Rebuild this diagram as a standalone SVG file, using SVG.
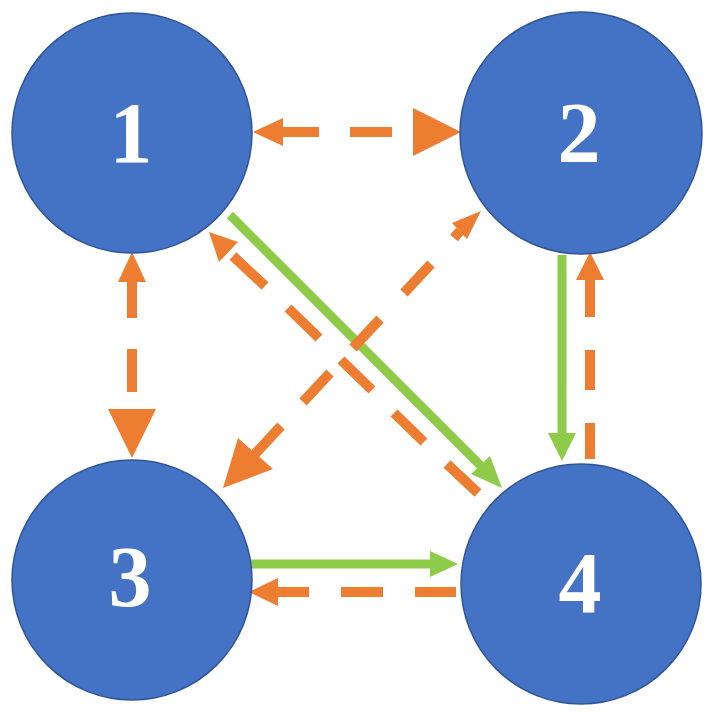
<svg xmlns="http://www.w3.org/2000/svg" width="711" height="712" viewBox="0 0 711 712">
<style>
.node circle{fill:#4472C4;stroke:#2F5597;stroke-width:1.5}
.node text{font-family:"Liberation Serif","Times New Roman",serif;font-weight:bold;font-size:86px;fill:#fff;text-anchor:middle}
.o{stroke:#ED7D31;stroke-width:10;fill:none;stroke-linecap:butt}
.oh{fill:#ED7D31}
.g{stroke:#8DCB48;stroke-width:9;fill:none}
.gh{fill:#8DCB48}
</style>
<rect width="711" height="712" fill="#fff"/>
<g id="connectors">
<!-- 1 <-> 2 -->
<path class="o" d="M283 132 H319 M350 132 H392"/>
<polygon class="oh" points="253,132 283,118 283,146"/>
<polygon class="oh" points="461,132 413,108 413,156"/>
<!-- 1 <-> 3 -->
<path class="o" d="M132 282 V318 M132 349 V392"/>
<polygon class="oh" points="132,252 118,282 146,282"/>
<polygon class="oh" points="132,458 108,409 156,409"/>
<!-- 2 -> 4 green -->
<path class="g" d="M562 255 V434"/>
<polygon class="gh" points="562,461 548,433 576,433"/>
<!-- 4 -> 2 orange -->
<path class="o" d="M590 280 V317 M590 350 V390 M590 423 V459"/>
<polygon class="oh" points="590,252 576,280 604,280"/>
<!-- 3 -> 4 green -->
<path class="g" d="M250 564 H431"/>
<polygon class="gh" points="458,564 430,551 430,577"/>
<!-- 4 -> 3 orange -->
<path class="o" d="M278 592 H309 M341 592 H383 M415 592 H456"/>
<polygon class="oh" points="249,592 278,578 278,606"/>
<!-- 1 -> 4 green -->
<path class="g" d="M230 215 L482 467"/>
<polygon class="gh" points="502,488 471,474 490,456"/>
<!-- 4 -> 1 orange -->
<path class="o" d="M233 256 L265 286 M288 308 L319 338 M341 360 L372 390 M394 413 L424 442 M447 464 L478 493"/>
<polygon class="oh" points="209,232 219,262 238,242"/>
<!-- 3 -> 2 orange -->
<path class="o" d="M460 231 L454 238 M431 264 L404 293 M380 319 L353 348 M330 373 L303 402 M281 426 L255 454"/>
<polygon class="oh" points="481,211 452,223 467,239"/>
<polygon class="oh" points="223,488 238,438 273,469"/>
</g>
<g id="node1" class="node"><circle cx="132" cy="133" r="120"/><text x="131" y="162">1</text></g>
<g id="node2" class="node"><circle cx="581" cy="133" r="121"/><text x="579" y="162">2</text></g>
<g id="node3" class="node"><circle cx="132" cy="580" r="120"/><text x="130" y="606">3</text></g>
<g id="node4" class="node"><circle cx="581" cy="584" r="120"/><text x="580" y="612">4</text></g>
</svg>
